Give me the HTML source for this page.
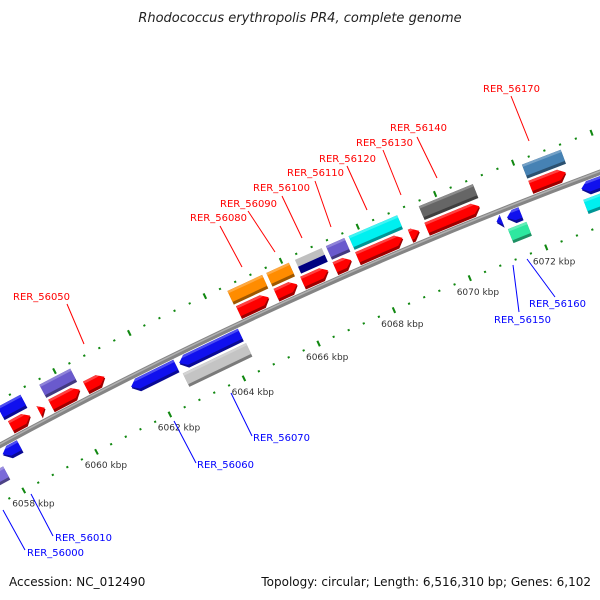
<!DOCTYPE html>
<html><head><meta charset="utf-8"><style>
html,body{margin:0;padding:0;background:#fff}
svg{display:block;font-family:"DejaVu Sans","Liberation Sans",sans-serif}
</style></head><body>
<svg id="map" width="600" height="600" viewBox="0 0 600 600" xmlns="http://www.w3.org/2000/svg">
<text x="300" y="22" text-anchor="middle" font-size="13" font-style="italic" fill="#222">Rhodococcus erythropolis PR4, complete genome</text>
<g id="ticks"></g>
<g id="backbone"></g>
<g id="feats"></g>
<g id="labels" font-size="10">
 <g fill="#f00" stroke="none">
  <text x="483" y="92">RER_56170</text>
  <text x="390" y="131">RER_56140</text>
  <text x="356" y="146">RER_56130</text>
  <text x="319" y="162">RER_56120</text>
  <text x="287" y="176">RER_56110</text>
  <text x="253" y="191">RER_56100</text>
  <text x="220" y="207">RER_56090</text>
  <text x="190" y="221">RER_56080</text>
  <text x="13" y="300">RER_56050</text>
 </g>
 <g stroke="#f00" stroke-width="1">
  <line x1="511" y1="96" x2="529" y2="141"/><line x1="417" y1="137" x2="437" y2="178"/>
  <line x1="383" y1="150" x2="401" y2="195"/><line x1="347" y1="166" x2="367" y2="210"/>
  <line x1="315" y1="181" x2="331" y2="227"/><line x1="282" y1="196" x2="302" y2="238"/>
  <line x1="248" y1="211" x2="275" y2="252"/><line x1="220" y1="226" x2="242" y2="267"/>
  <line x1="67" y1="304" x2="84" y2="344"/>
 </g>
 <g fill="#00f">
  <text x="253" y="441">RER_56070</text>
  <text x="197" y="468">RER_56060</text>
  <text x="55" y="541">RER_56010</text>
  <text x="27" y="556">RER_56000</text>
  <text x="494" y="323">RER_56150</text>
  <text x="529" y="307">RER_56160</text>
 </g>
 <g stroke="#00f" stroke-width="1">
  <line x1="231" y1="393" x2="252" y2="436"/><line x1="174" y1="421" x2="196" y2="463"/>
  <line x1="31" y1="494" x2="53" y2="536"/><line x1="3" y1="510" x2="25" y2="550"/>
  <line x1="513" y1="265" x2="519" y2="312"/><line x1="527" y1="259" x2="555" y2="297"/>
 </g>
</g>
<text x="9" y="586" font-size="12" fill="#111">Accession: NC_012490</text>
<text x="591" y="586" font-size="12" fill="#111" text-anchor="end">Topology: circular; Length: 6,516,310 bp; Genes: 6,102</text>
</svg>
<script>
// ---- data ----
const featStart = [6058.40,6059.53,6064.54,6065.56,6066.31,6066.31,6067.12,6067.71,6069.53,6072.18,
  6058.46,6059.23,6059.55,6060.49,6064.57,6065.56,6066.26,6067.11,6067.70,6069.07,6069.50,6072.18,
  6057.97,6061.46,6062.75,6071.11,6071.38,6073.30,
  6057.40,6062.72,6071.30,6073.25];
const featEnd = [6059.02,6060.36,6065.45,6066.15,6067.01,6067.01,6067.60,6068.97,6070.92,6073.17,
  6058.99,6059.39,6060.33,6061.00,6065.37,6066.12,6066.93,6067.54,6068.88,6069.31,6070.87,6073.09,
  6058.43,6062.66,6064.38,6071.24,6071.73,6074.60,
  6057.84,6064.41,6071.78,6074.60];
// rows: 2 = outer category, 1 = forward CDS, -1 = reverse CDS, -2 = inner category, 3/4 = split halves
const featRow = [2,2,2,2,3,4,2,2,2,2, 1,1,1,1,1,1,1,1,1,1,1,1, -1,-1,-1,-1,-1,-1, -2,-2,-2,-2];
const featColor = ["#1010ee","#6a5acd","#ff8c00","#ff8c00","#c0c0c0","#000080","#6a5acd","#00f0f0","#666666","#4682b4",
  "#ff0000","#ff0000","#ff0000","#ff0000","#ff0000","#ff0000","#ff0000","#ff0000","#ff0000","#ff0000","#ff0000","#ff0000",
  "#1010ee","#1010ee","#1010ee","#1010ee","#1010ee","#1010ee",
  "#7a6ad8","#c4c4c4","#2ee8a0","#00f0f0"];
const tickMajor = [6054,6056,6058,6060,6062,6064,6066,6068,6070,6072,6074,6076];
const tickLabels = ["6054 kbp","6056 kbp","6058 kbp","6060 kbp","6062 kbp","6064 kbp","6066 kbp","6068 kbp","6070 kbp","6072 kbp","6074 kbp","6076 kbp"];

// ---- geometry ----
const CX = 2233, CY = 4556, R0 = 4678;
function ang(k){ return (-113.42 + (k - 6068) * 0.510) * Math.PI / 180; }
function pt(k, d){ const a = ang(k); return [CX + (R0 + d) * Math.cos(a), CY + (R0 + d) * Math.sin(a)]; }
const NS = "http://www.w3.org/2000/svg";
function poly(parent, pts, fill){
  const p = document.createElementNS(NS, "polygon");
  p.setAttribute("points", pts.map(q => q[0].toFixed(1) + "," + q[1].toFixed(1)).join(" "));
  p.setAttribute("fill", fill);
  parent.appendChild(p);
  return p;
}
function shade(hex, f){
  const n = parseInt(hex.slice(1), 16);
  const r = Math.round(((n >> 16) & 255) * f), g = Math.round(((n >> 8) & 255) * f), b = Math.round((n & 255) * f);
  return "rgb(" + r + "," + g + "," + b + ")";
}
function shape(s, e, d1, d2, dir){
  const h = Math.min(0.17, (e - s));
  const mid = (d1 + d2) / 2;
  if (dir === 1) return [pt(s, d1), pt(e - h, d1), pt(e, mid), pt(e - h, d2), pt(s, d2)];
  if (dir === -1) return [pt(e, d1), pt(s + h, d1), pt(s, mid), pt(s + h, d2), pt(e, d2)];
  return [pt(s, d1), pt(e, d1), pt(e, d2), pt(s, d2)];
}

// backbone
const bb = document.getElementById("backbone");
function arcPath(d, k1, k2){
  const a = pt(k1, d), b = pt(k2, d);
  return "M" + a[0] + "," + a[1] + " A" + (R0 + d) + "," + (R0 + d) + " 0 0 1 " + b[0] + "," + b[1];
}
const bp1 = document.createElementNS(NS, "path");
bp1.setAttribute("d", arcPath(0, 6054, 6078));
bp1.setAttribute("stroke", "#858585"); bp1.setAttribute("stroke-width", "5.5"); bp1.setAttribute("fill", "none");


bb.appendChild(bp1);
const bp2 = document.createElementNS(NS, "path");
bp2.setAttribute("d", arcPath(1, 6054, 6078));
bp2.setAttribute("stroke", "#b0b0b0"); bp2.setAttribute("stroke-width", "1.5"); bp2.setAttribute("fill", "none");


bb.appendChild(bp2);

// ticks
const tg = document.getElementById("ticks");
[40, -51].forEach(function(d){
  for (let k = 6052; k <= 6078.001; k += 0.4) {
    const kk = Math.round(k * 10) / 10;
    const major = Math.abs(kk / 2 - Math.round(kk / 2)) < 1e-6;
    const len = major ? 6 : 2;
    const pts = [pt(kk - 0.025, d - len / 2), pt(kk + 0.025, d - len / 2), pt(kk + 0.025, d + len / 2), pt(kk - 0.025, d + len / 2)];
    const p = poly(tg, pts, "#118811");
    
    
  }
});
tickMajor.forEach(function(k, i){
  const q = pt(k, -51 - 16);
  const t = document.createElementNS(NS, "text");
  t.setAttribute("x", (q[0] + 2).toFixed(1)); t.setAttribute("y", (q[1] + 2).toFixed(1));
  t.setAttribute("text-anchor", "middle"); t.setAttribute("font-size", "9"); t.setAttribute("fill", "#333");
  t.textContent = tickLabels[i];
  
  
  tg.appendChild(t);
});

// features
const fg = document.getElementById("feats");
const rowD = {"2":[20,35], "3":[27.5,35], "4":[20,27.5], "1":[3.5,17.5], "-1":[-17.5,-3.5], "-2":[-35,-20]};
featStart.forEach(function(s, i){
  const e = featEnd[i], row = featRow[i], col = featColor[i];
  const dr = rowD[String(row)];
  const dir = row === 1 ? 1 : (row === -1 ? -1 : 0);
  const g = document.createElementNS(NS, "g");
  
  
  fg.appendChild(g);
  if (row === 3 || row === 4) {
    poly(g, shape(s, e, dr[0], dr[1], 0), col);
    return;
  }
  poly(g, shape(s, e, dr[0], dr[1], dir), shade(col, 0.62));
  poly(g, shape(s, e, dr[0] + 3, dr[1], dir), col);
  poly(g, shape(s, e, dr[1] - 2.5, dr[1], dir), "rgba(255,255,255,0.25)");
});
</script>
</body></html>
